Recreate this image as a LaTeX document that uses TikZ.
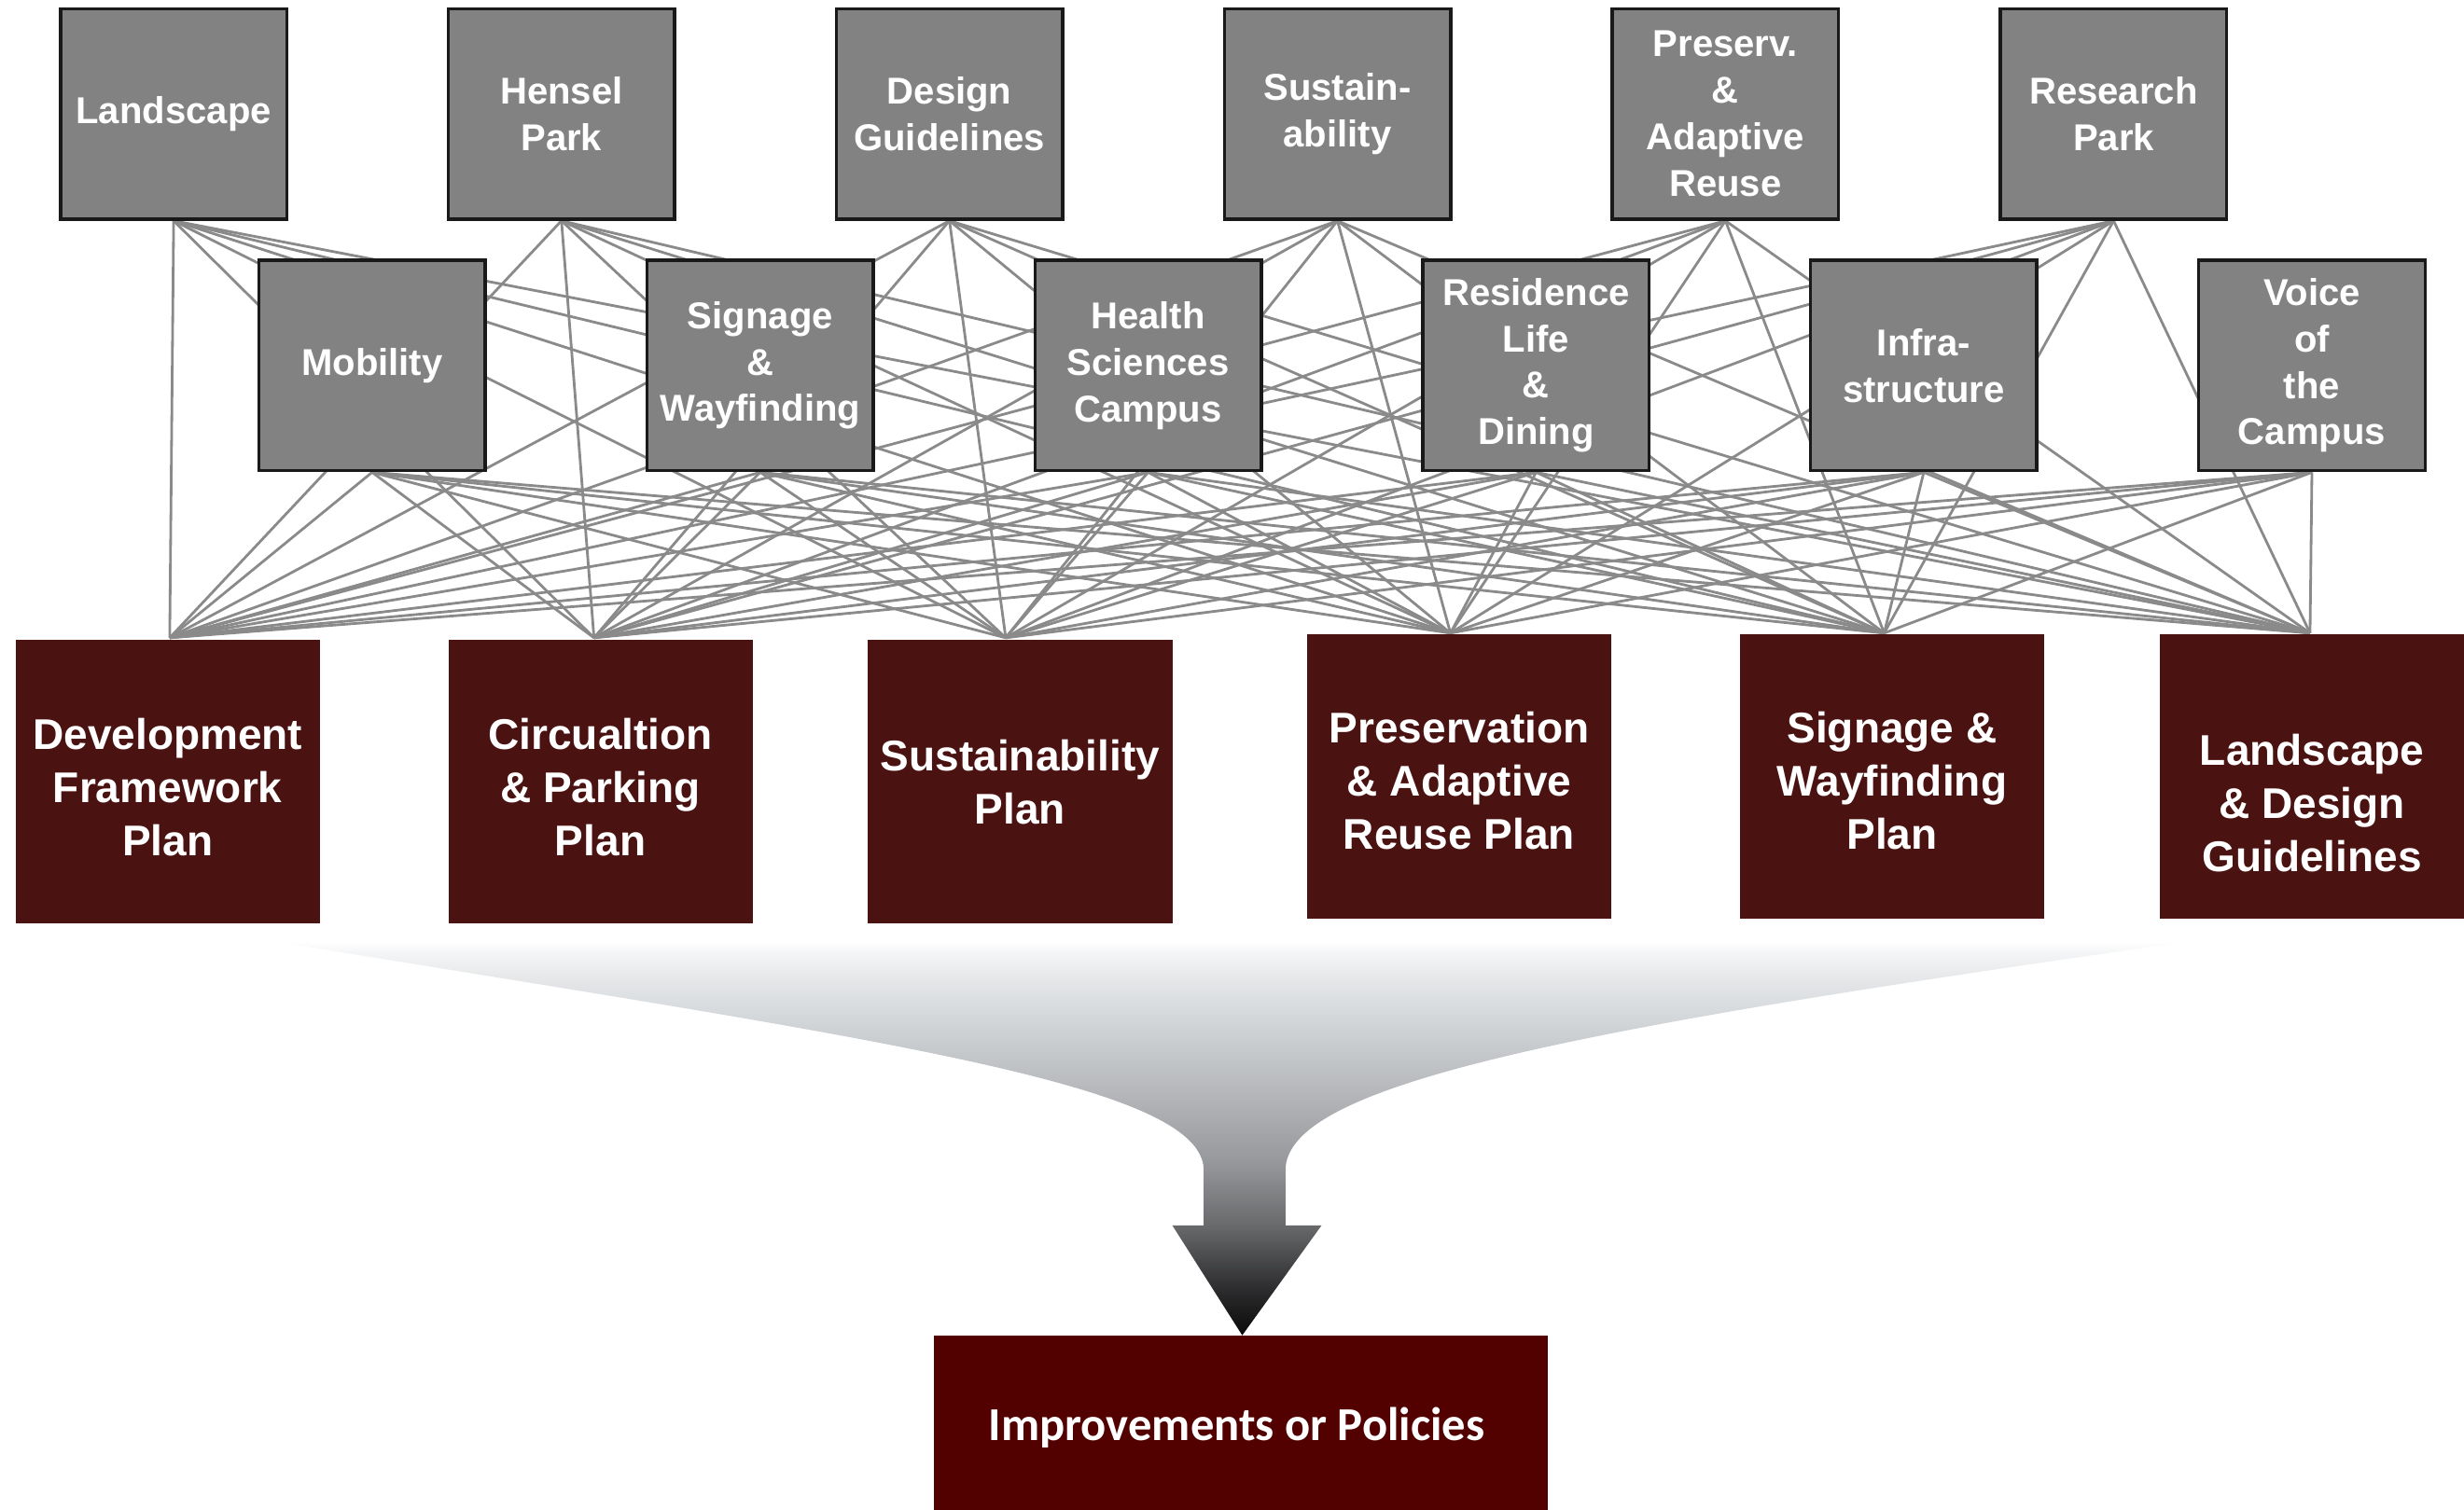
\documentclass[tikz,border=0pt]{standalone}
\usepackage{fontspec}
\setmainfont{Liberation Sans}
\newfontfamily\impfont{Carlito}
\pgfdeclarelayer{background}
\pgfsetlayers{background,main}
\definecolor{boxgray}{RGB}{130,130,130}
\definecolor{boxedge}{RGB}{25,25,25}
\definecolor{plancol}{RGB}{74,19,18}
\definecolor{impcol}{RGB}{82,0,0}
\definecolor{linegray}{RGB}{138,138,138}
\definecolor{fkA}{RGB}{10,10,10}
\definecolor{fkB}{RGB}{45,45,47}
\definecolor{fkC}{RGB}{105,106,108}
\definecolor{fkD}{RGB}{150,152,155}
\definecolor{fkE}{RGB}{178,180,183}
\definecolor{fkF}{RGB}{211,214,217}
\definecolor{fkG}{RGB}{228,230,232}
\definecolor{fkH}{RGB}{244,245,246}
\pgfdeclareverticalshading{funnelshade}{100bp}{color(0bp)=(fkA); color(25bp)=(fkA); color(31bp)=(fkB); color(39bp)=(fkC); color(47bp)=(fkD); color(55bp)=(fkE); color(65bp)=(fkF); color(70bp)=(fkG); color(73.5bp)=(fkH); color(75bp)=(white); color(100bp)=(white)}
\begin{document}
\begin{tikzpicture}[x=0.0168431cm,y=-0.0168431cm,
  topic/.style={draw=boxedge, line width=1pt, fill=boxgray, text=white,
    minimum width=144*0.0168431cm, minimum height=134*0.0168431cm,
    inner sep=0pt, align=center, font=\bfseries\fontsize{11.4}{14.2}\selectfont},
  plan/.style={fill=plancol, minimum width=193.6*0.0168431cm,
    minimum height=181*0.0168431cm, inner sep=0pt},
  plantext/.style={text=white, align=center, inner sep=0pt,
    font=\bfseries\fontsize{13.1}{16.2}\selectfont},
  conn/.style={draw=linegray, line width=0.8pt}]
\useasboundingbox (0,0) rectangle (1568,961);

% top row
\node[topic] (t1) at (110.5,72.5) {Landscape};
\node[topic] (t2) at (357.3,72.5) {Hensel\\Park};
\node[topic] (t3) at (604.2,72.5) {Design\\Guidelines};
\node[topic] (t4) at (851.1,72.5) {Sustain-\\ability};
\node[topic] (t5) at (1098,72.5) {Preserv.\\\&\\Adaptive\\Reuse};
\node[topic] (t6) at (1345,72.5) {Research\\Park};
% middle row
\node[topic] (m1) at (236.8,232.6) {Mobility};
\node[topic] (m2) at (483.8,232.6) {Signage\\\&\\Wayfinding};
\node[topic] (m3) at (730.6,232.6) {Health\\Sciences\\Campus};
\node[topic] (m4) at (977.5,232.6) {Residence\\Life\\\&\\Dining};
\node[topic] (m5) at (1224.2,232.6) {Infra-\\structure};
\node[topic] (m6) at (1471.2,232.6) {Voice\\of\\the\\Campus};
% plan boxes
\node[plan] (p1) at (106.7,497.5) {};
\node[plan] (p2) at (382.1,497.5) {};
\node[plan] (p3) at (649.2,497.5) {};
\node[plan] (p4) at (928.6,494.4) {};
\node[plan] (p5) at (1204,494.4) {};
\node[plan] (p6) at (1471.3,494.4) {};
\node[plantext] (l1) at (106.7,501) {Development\\Framework\\Plan};
\node[plantext] (l2) at (382.1,501) {Circualtion\\\& Parking\\Plan};
\node[plantext] (l3) at (649.2,498) {Sustainability\\Plan};
\node[plantext] (l4) at (928.6,497) {Preservation\\\& Adaptive\\Reuse Plan};
\node[plantext] (l5) at (1204,497) {Signage \&\\Wayfinding\\Plan};
\node[plantext] (l6) at (1471.3,511) {Landscape\\\& Design\\Guidelines};

% convergence points
\coordinate (d1) at (108,406);
\coordinate (d2) at (378,406);
\coordinate (d3) at (640,406);
\coordinate (d4) at (923,403);
\coordinate (d5) at (1199,403);
\coordinate (d6) at (1470,403);

\begin{pgfonlayer}{background}
\foreach \s in {t1,t2,t3,t4,t5,t6,m1,m2,m3,m4,m5,m6}
  \foreach \d in {d1,d2,d3,d4,d5,d6}
    \draw[conn] (\s.south) -- (\d);
\end{pgfonlayer}

% funnel arrow
\shade[shading=funnelshade] (173,599) -- (1388,600)
  .. controls (1000,655) and (818,690) .. (818,745)
  -- (818,780) -- (841,780) -- (790.5,850) -- (746,780) -- (766,780) -- (766,745)
  .. controls (766,690) and (560,662) .. (173,599) -- cycle;

% result box
\node[fill=impcol, minimum width=391*0.0168431cm, minimum height=112*0.0168431cm,
  inner sep=0pt] (imp) at (789.5,906) {};
\node[text=white, inner sep=0pt, font=\impfont\bfseries\fontsize{14.4}{17}\selectfont]
  (impt) at (787,909) {Improvements or Policies};
\end{tikzpicture}
\end{document}
